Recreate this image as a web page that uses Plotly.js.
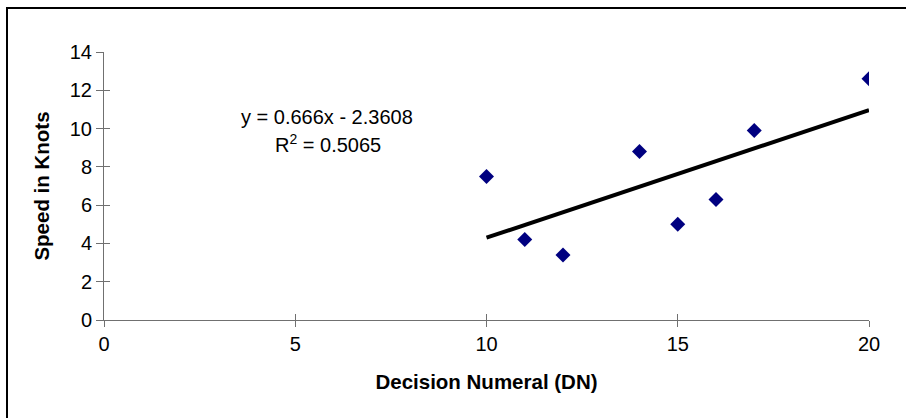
<!DOCTYPE html>
<html>
<head>
<meta charset="utf-8">
<script src="https://cdn.plot.ly/plotly-3.0.1.min.js"></script>
<style>
html, body { margin:0; padding:0; background:#fff; overflow:hidden; }
#chart { position:absolute; left:0; top:0; width:906px; height:418px; }
#frame { position:absolute; left:6px; top:7px; width:1200px; height:1200px;
  border-left:2px solid #000; border-top:2px solid #000; pointer-events:none; }
</style>
</head>
<body>
<div id="chart"></div>
<div id="frame"></div>
<script>
// Data
const decisionNumeral = [10, 11, 12, 14, 15, 16, 17, 20];
const speedKnots = [7.5, 4.2, 3.4, 8.8, 5.0, 6.3, 9.9, 12.6];
const xTicks = [0, 5, 10, 15, 20];
const yTicks = [0, 2, 4, 6, 8, 10, 12, 14];
const equationLines = ['y = 0.666x - 2.3608', 'R<sup>2</sup> = 0.5065'];
const xTitle = 'Decision Numeral (DN)';
const yTitle = 'Speed in Knots';

// Linear regression from the data
const n = decisionNumeral.length;
const mx = decisionNumeral.reduce((a,b)=>a+b,0)/n;
const my = speedKnots.reduce((a,b)=>a+b,0)/n;
let sxy = 0, sxx = 0;
for (let i=0;i<n;i++){ sxy += (decisionNumeral[i]-mx)*(speedKnots[i]-my); sxx += (decisionNumeral[i]-mx)**2; }
const slope = sxy/sxx, intercept = my - slope*mx;
const xMin = Math.min(...decisionNumeral), xMax = Math.max(...decisionNumeral);
const trendX = [xMin, xMax];
const trendY = trendX.map(x => slope*x + intercept);

const FONT = 'Liberation Sans, Arial, sans-serif';
const AX = '#707070';
const EPS = 1e-4;

const traces = [
  { x: trendX, y: trendY, mode: 'lines',
    line: { color: '#000', width: 4 }, hoverinfo: 'skip' },
  { x: decisionNumeral, y: speedKnots, mode: 'markers', type: 'scatter',
    marker: { symbol: 'diamond', size: 11.5, color: '#000080' } },
  // carrier for the inner tick marks of the overlaid axes
  { x: [xMin], y: [my], mode: 'markers', xaxis: 'x2', yaxis: 'y2',
    marker: { size: 1, opacity: 0 }, hoverinfo: 'skip' }
];

const common = { showgrid: false, zeroline: false, tickfont: { family: FONT, size: 20, color: '#000' } };

const layout = {
  width: 906, height: 418,
  margin: { l: 104, r: 37, t: 52, b: 98 },
  paper_bgcolor: '#fff', plot_bgcolor: '#fff',
  showlegend: false,
  font: { family: FONT, size: 20, color: '#000' },
  xaxis: Object.assign({}, common, {
    range: [0, 20], tickvals: xTicks, ticktext: xTicks.map(String),
    showline: true, linecolor: AX, linewidth: 1,
    ticks: 'outside', ticklen: 6, tickcolor: AX, tickwidth: 1,
    title: { text: '<b>' + xTitle + '</b>', font: { family: FONT, size: 20.5, color: '#000' }, standoff: 20 }
  }),
  yaxis: Object.assign({}, common, {
    range: [0, 14], tickvals: yTicks, ticktext: yTicks.map(String),
    showline: true, linecolor: AX, linewidth: 1,
    ticks: 'outside', ticklen: 7, tickcolor: AX, tickwidth: 1,
    title: { text: '<b>' + yTitle + '</b>', font: { family: FONT, size: 20.5, color: '#000' }, standoff: 14 }
  }),
  xaxis2: { overlaying: 'x', anchor: 'y2', side: 'bottom', range: [-EPS, 20 + EPS], tickvals: xTicks,
    showticklabels: false, showgrid: false, zeroline: false, showline: false,
    ticks: 'inside', ticklen: 6, tickcolor: AX, tickwidth: 1 },
  yaxis2: { overlaying: 'y', anchor: 'x2', side: 'left', range: [-EPS, 14 + EPS], tickvals: yTicks,
    showticklabels: false, showgrid: false, zeroline: false, showline: false,
    ticks: 'inside', ticklen: 6, tickcolor: AX, tickwidth: 1 },
  annotations: [
    { xref: 'x', yref: 'y', x: 5.82, y: 10.6, text: equationLines[0], showarrow: false,
      xanchor: 'center', yanchor: 'middle', font: { family: FONT, size: 20, color: '#000' } },
    { xref: 'x', yref: 'y', x: 5.85, y: 9.2, text: equationLines[1], showarrow: false,
      xanchor: 'center', yanchor: 'middle', font: { family: FONT, size: 20, color: '#000' } }
  ]
};

Plotly.newPlot('chart', traces, layout, { staticPlot: true, displayModeBar: false });
</script>
</body>
</html>
